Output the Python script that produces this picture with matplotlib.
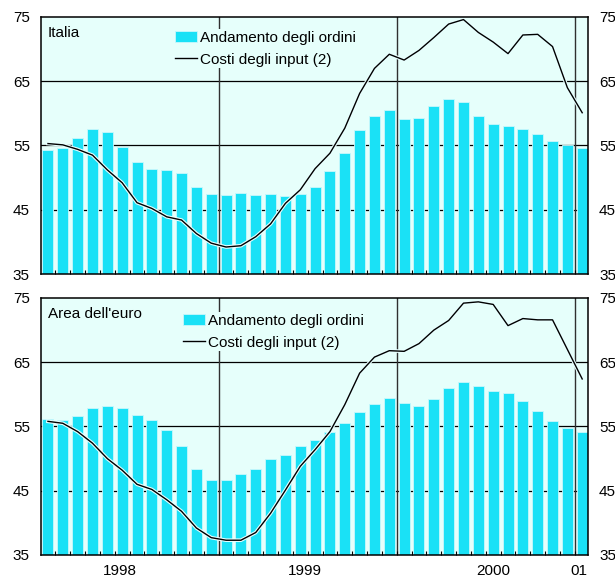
import matplotlib
matplotlib.use("Agg")
import matplotlib.pyplot as plt
import matplotlib.patheffects as pe

plt.rcParams['font.family'] = ['Liberation Sans', 'DejaVu Sans']

months = list(range(37))  # Jan 1998 .. Jan 2001

it_orders = [54.3, 54.55, 56.2, 57.6, 57.1, 54.8, 52.4, 51.3, 51.2, 50.7, 48.5, 47.5,
             47.3, 47.6, 47.3, 47.5, 47.1, 47.5, 48.5, 51.0, 53.8, 57.4, 59.6, 60.6,
             59.1, 59.3, 61.1, 62.3, 61.8, 59.6, 58.4, 58.0, 57.6, 56.8, 55.7, 55.1, 54.55]
it_costs = [55.3, 55.1, 54.4, 53.5, 51.2, 49.2, 46.1, 45.2, 43.9, 43.4, 41.3, 39.8,
            39.2, 39.4, 40.8, 42.8, 46.0, 48.1, 51.4, 53.8, 57.7, 63.1, 67.0, 69.2,
            68.3, 69.8, 71.8, 73.9, 74.6, 72.6, 71.1, 69.3, 72.2, 72.3, 70.4, 64.0, 60.1]

eu_orders = [56.2, 56.0, 56.7, 57.9, 58.2, 57.9, 56.8, 56.0, 54.5, 51.9, 48.4, 46.7,
             46.7, 47.6, 48.4, 49.9, 50.6, 51.9, 52.9, 54.1, 55.5, 57.2, 58.5, 59.5,
             58.7, 58.2, 59.3, 61.0, 61.9, 61.3, 60.5, 60.2, 59.0, 57.4, 55.9, 54.8, 54.2]
eu_costs = [55.8, 55.5, 54.2, 52.4, 50.0, 48.2, 46.0, 45.2, 43.6, 41.8, 39.2, 37.7,
            37.3, 37.3, 38.5, 41.5, 45.1, 48.8, 51.4, 54.2, 58.4, 63.3, 65.8, 66.8,
            66.7, 67.9, 70.0, 71.5, 74.2, 74.4, 74.0, 70.7, 71.8, 71.6, 71.6, 67.0, 62.4]

panel_titles = ["Italia", "Area dell'euro"]
legend_labels = ["Andamento degli ordini", "Costi degli input (2)"]
year_labels = ["1998", "1999", "2000", "01"]
year_label_pos = [4.85, 17.3, 30.0, 35.75]
year_bounds = [11.5, 23.5, 35.5]
y_ticks = [35, 45, 55, 65, 75]

BAR = '#1AE1F6'
BG = '#E6FFFB'
FS = 11

fig = plt.figure(figsize=(6.15, 5.77), dpi=100)
ax_top = fig.add_axes([41/615, 1-274/577, 547/615, 257/577])
ax_bot = fig.add_axes([41/615, 1-555/577, 547/615, 257/577])

panels = [(ax_top, it_orders, it_costs, panel_titles[0], (173/615, 1-29/577)),
          (ax_bot, eu_orders, eu_costs, panel_titles[1], (181/615, 1-312/577))]

for i, (ax, orders, costs, title, legpos) in enumerate(panels):
    ax.set_facecolor(BG)
    for y in [45, 55, 65]:
        ax.axhline(y, color='black', lw=0.9, zorder=1)
    for xb in year_bounds:
        ax.axvline(xb, color='#303030', lw=1.0, zorder=1)
    bars = ax.bar(months, [o - 35 for o in orders], bottom=35, width=0.74, color=BAR,
                  edgecolor='#C8F8FC', linewidth=0.6, zorder=2)
    ln, = ax.plot(months, costs, color='black', lw=1.0, zorder=4,
                  path_effects=[pe.Stroke(linewidth=2.6, foreground='#E8FFFF'), pe.Normal()])
    ax.set_xlim(-0.47, 36.39)
    ax.set_ylim(35, 75)
    ax.set_yticks(y_ticks)
    ax.tick_params(axis='y', which='both', length=0, labelsize=FS, pad=8,
                   left=True, right=True, labelleft=True, labelright=True)
    ax.set_xticks([m + 0.5 for m in months[:-1]], minor=True)
    ax.tick_params(axis='x', which='minor', direction='in', length=3, width=0.8,
                   color='black', bottom=True, top=False)
    if i == 1:
        ax.set_xticks(year_label_pos)
        ax.set_xticklabels(year_labels)
        ax.tick_params(axis='x', which='major', length=0, labelsize=FS, pad=6.5)
    else:
        ax.set_xticks([])
    for s in ax.spines.values():
        s.set_linewidth(1.1)
        s.set_color('black')
        s.set_zorder(5)
    ax.text(0.013, 0.965, title, transform=ax.transAxes, fontsize=FS,
            va='top', ha='left', zorder=6)
    leg = ax.legend([bars, ln], legend_labels, loc='upper left', bbox_to_anchor=legpos,
                    bbox_transform=fig.transFigure,
                    frameon=True, facecolor=BG, edgecolor='none', framealpha=1,
                    fontsize=FS, handlelength=1.5, handleheight=0.75,
                    handletextpad=0.15, labelspacing=0.55, borderpad=0.1,
                    borderaxespad=0, fancybox=False)
    leg.set_zorder(6)

fig.savefig('out.png', dpi=100)
